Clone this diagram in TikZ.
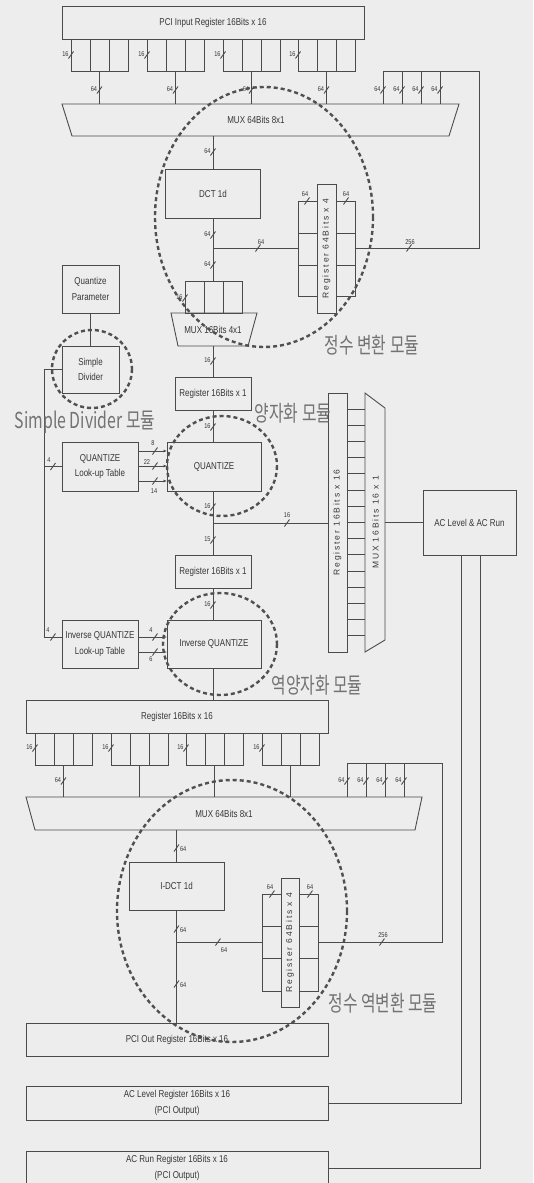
\documentclass[tikz,border=0pt]{standalone}
\usepackage{fontspec}
\setmainfont[FakeStretch=0.8]{Liberation Sans}
\newfontfamily\vertf[LetterSpace=22]{Liberation Sans}
\newfontfamily\korf[FakeStretch=0.72]{Noto Sans CJK KR}
\usetikzlibrary{arrows.meta}
\definecolor{bgc}{RGB}{237,237,237}
\definecolor{lc}{RGB}{75,75,75}
\definecolor{tc}{RGB}{55,55,55}
\definecolor{cc}{RGB}{80,80,80}
\definecolor{kc}{RGB}{115,115,115}
\newcommand\msz{\fontsize{10}{15.5}\selectfont}
\newcommand\ssz{\fontsize{7}{8}\selectfont}
\newcommand\vsz{\vertf\fontsize{8.5}{10}\selectfont}
\newcommand\ksz{\korf\fontsize{22}{24}\selectfont}
\newcommand\bmL[3]{\draw[ln] (#1,#2) ++(-2.5,3.5) -- ++(5,-7); \node[lab,anchor=east] at (#1-2,#2-1) {#3};}
\newcommand\bmR[3]{\draw[ln] (#1,#2) ++(-2.5,3.5) -- ++(5,-7); \node[lab,anchor=west] at (#1+3,#2+1.5) {#3};}
\newcommand\bmX[1]{\draw[ln] (#1) ++(-2.5,3.5) -- ++(5,-7);}
\begin{document}
\begin{tikzpicture}[x=1pt,y=-1pt,
 ln/.style={draw=lc,line width=0.9pt},
 box/.style={draw=lc,line width=0.9pt,inner sep=1pt,outer sep=0pt,text=tc,font=\msz,align=center},
 cellbox/.style={draw=lc,line width=0.9pt,inner sep=0pt,outer sep=0pt},
 vbox/.style={box,rotate=90,font=\vsz},
 vtext/.style={text=tc,font=\vsz,rotate=90,inner sep=0pt},
 mtext/.style={text=tc,font=\msz,inner sep=0pt},
 lab/.style={text=tc,font=\ssz,inner sep=0.3pt},
 circ/.style={draw=cc,line width=2.4pt,dash pattern=on 4pt off 3pt},
 kor/.style={text=kc,font=\ksz,inner sep=0pt},
 arr/.style={ln,-{Latex[length=3.5pt,width=3pt]}}
]
\useasboundingbox (0,0) rectangle (533,1183);
\fill[bgc] (0,0) rectangle (533,1183);

%% ---------------- upper part ----------------
\node[box,minimum width=302pt,minimum height=33pt] (pciin) at (213,22.5) {PCI Input Register 16Bits x 16};
\coordinate (mux1top) at (0,104);
\coordinate (mux1bot) at (0,136);
\foreach \n/\x in {1/71,2/147,3/223,4/298}{
  \node[cellbox,minimum width=57pt,minimum height=32pt,anchor=north west] (ga\n) at (\x,39) {};
  \draw[ln] (\x+19,39) -- (\x+19,71) (\x+38,39) -- (\x+38,71);
  \bmL{\x}{55}{16}
  \draw[ln] (ga\n.south) -- (ga\n.south |- mux1top);
  \pgfmathsetmacro\cx{\x+28.5}
  \bmL{\cx}{90}{64}
}
\draw[ln] (62,104) -- (459,104) -- (449,136) -- (72,136) -- cycle;
\node[mtext] (mux1) at (256,120) {MUX 64Bits 8x1};

\node[box,minimum width=95pt,minimum height=49pt] (dct) at (213,193.5) {DCT 1d};
\draw[ln] (dct.north |- mux1bot) -- (dct.north);
\bmL{213}{152}{64}

% register 64 x 4
\node[vbox,minimum width=129pt,minimum height=19pt] (r64a) at (326.5,248.5) {Register 64Bits x 4};
\node[cellbox,minimum width=19pt,minimum height=95pt] (r64aL) at (307.5,248.5) {};
\node[cellbox,minimum width=19pt,minimum height=95pt] (r64aR) at (345.5,248.5) {};
\draw[ln] (298,233) -- (317,233) (298,265) -- (317,265) (336,233) -- (355,233) (336,265) -- (355,265);
\bmX{307,201} \node[lab,anchor=south] at (305,197.5) {64};
\bmX{346,201} \node[lab,anchor=south] at (346,197.5) {64};

% mux 16 4x1 cells
\node[cellbox,minimum width=57pt,minimum height=32pt] (m16c) at (213.5,297) {};
\draw[ln] (204,281) -- (204,313) (223,281) -- (223,313);
\bmL{185}{298}{16}
\draw[ln] (dct.south) -- (dct.south |- m16c.north);
\bmL{213}{235}{64}
\bmL{213}{265}{64}
\coordinate (j64a) at (213,248);
\draw[ln] (j64a) -- (j64a -| r64aL.west);
\bmX{258,248} \node[lab,anchor=south] at (261,245) {64};

% feedback 256
\draw[ln] (r64aR.east |- j64a) -- (479,248) |- (383,71) -- (383,104);
\draw[ln] (402,71) -- (402,104) (421,71) -- (421,104) (440,71) -- (440,104);
\bmL{383}{90}{64} \bmL{402}{90}{64} \bmL{421}{90}{64} \bmL{440}{90}{64}
\bmX{409,248} \node[lab,anchor=south] at (410,245) {256};

\draw[ln] (171,313) -- (257,313) -- (248,346) -- (178,346) -- cycle;
\node[mtext] (m16) at (213,330) {MUX 16Bits 4x1};

\node[box,minimum width=76pt,minimum height=33pt] (r16a) at (213,393.5) {Register 16Bits x 1};
\draw[ln] (213,346) -- (r16a.north);
\bmL{213}{361}{16}

% quantize parameter / simple divider
\node[box,minimum width=57pt,minimum height=48pt] (qpar) at (90.5,289) {Quantize\\Parameter};
\node[box,minimum width=57pt,minimum height=47pt] (sdiv) at (90.5,369.5) {Simple\\Divider};
\draw[ln] (qpar.south) -- (sdiv.north);

% quantize
\node[box,minimum width=76pt,minimum height=49pt] (qlut) at (100,466.5) {QUANTIZE\\Look-up Table};
\node[box,minimum width=94pt,minimum height=49pt] (quant) at (214,466.5) {QUANTIZE};
\draw[ln] (r16a.south) -- (r16a.south |- quant.north);
\bmL{213}{427}{16}
\draw[arr] ([yshift=15.5pt]qlut.east) -- ([yshift=15.5pt]quant.west);
\draw[arr] ([yshift=0.5pt]qlut.east) -- ([yshift=0.5pt]quant.west);
\draw[arr] ([yshift=-14.5pt]qlut.east) -- ([yshift=-14.5pt]quant.west);
\bmX{155,451} \node[lab,anchor=south] at (153,446.5) {8};
\bmX{155,466} \node[lab,anchor=east] at (150.5,462) {22};
\bmX{155,481} \node[lab,anchor=north] at (154,488) {14};

% register 16 x 16 (vertical) and mux 16x1
\node[vbox,minimum width=259pt,minimum height=19pt] (r1616v) at (337.5,522.5) {Register 16Bits x 16};
\foreach \k in {1,...,15}{\draw[ln] (347,393+16.1875*\k) -- (365,393+16.1875*\k);}
\draw[ln] (365,393) -- (385,408) -- (385,640) -- (365,652) -- cycle;
\node[vtext] (m16x1) at (375.5,522.5) {MUX 16Bits 16 x 1};
\node[box,minimum width=93pt,minimum height=65pt] (acbox) at (469.5,522.5) {AC Level \& AC Run};
\draw[ln] (385,522.5) -- (acbox.west);

\node[box,minimum width=76pt,minimum height=33pt] (r16b) at (213,571.5) {Register 16Bits x 1};
\coordinate (j16) at (213,523);
\draw[ln] (r16a.south |- quant.south) -- (r16b.north);
\draw[ln] (j16) -- (j16 -| r1616v.north);
\bmL{213}{507}{16}
\bmL{213}{540}{15}
\bmX{287,523} \node[lab,anchor=south] at (287,518.5) {16};

% inverse quantize
\node[box,minimum width=76pt,minimum height=48pt] (iqlut) at (100,644) {Inverse QUANTIZE\\Look-up Table};
\node[box,minimum width=94pt,minimum height=48pt] (iquant) at (214,644) {Inverse QUANTIZE};
\draw[ln] (r16b.south) -- (r16b.south |- iquant.north);
\bmL{213}{605}{16}
\draw[arr] ([yshift=7pt]iqlut.east) -- ([yshift=7pt]iquant.west);
\draw[arr] ([yshift=-8pt]iqlut.east) -- ([yshift=-8pt]iquant.west);
\bmX{155,637} \node[lab,anchor=south] at (151,633) {4};
\bmX{155,652} \node[lab,anchor=north] at (151,656.5) {6};

% left bus from simple divider
\coordinate (lb) at (44,637);
\draw[ln] (sdiv.west) -| (lb) -- ([yshift=7pt]iqlut.west);
\draw[ln] (qlut.west) -- (qlut.west -| lb);
\bmX{53,466.5} \node[lab,anchor=south] at (49,462.5) {4};
\bmX{53,637} \node[lab,anchor=south] at (48,633) {4};

%% ---------------- lower part ----------------
\node[box,minimum width=302pt,minimum height=33pt] (r1616) at (177,716.5) {Register 16Bits x 16};
\draw[ln] (r16b.south |- iquant.south) -- (r16b.south |- r1616.north);
\coordinate (mux2top) at (0,797);
\coordinate (mux2bot) at (0,830);
\foreach \n/\x in {1/35,2/111,3/186,4/262}{
  \node[cellbox,minimum width=57pt,minimum height=32pt,anchor=north west] (gb\n) at (\x,733) {};
  \draw[ln] (\x+19,733) -- (\x+19,765) (\x+38,733) -- (\x+38,765);
  \bmL{\x}{748}{16}
  \draw[ln] (gb\n.south) -- (gb\n.south |- mux2top);
}
\bmL{63.5}{781}{64}
\draw[ln] (26,797) -- (422,797) -- (415,830) -- (35,830) -- cycle;
\node[mtext] (mux2) at (224,814) {MUX 64Bits 8x1};

\node[box,minimum width=95pt,minimum height=48pt] (idct) at (176.5,886) {I-DCT 1d};
\draw[ln] (idct.north |- mux2bot) -- (idct.north);
\bmR{176.5}{848}{64}

\node[vbox,minimum width=129pt,minimum height=18pt] (r64b) at (290,942.5) {Register 64Bits x 4};
\node[cellbox,minimum width=19pt,minimum height=97pt] (r64bL) at (271.5,942.5) {};
\node[cellbox,minimum width=19pt,minimum height=97pt] (r64bR) at (308.5,942.5) {};
\draw[ln] (262,926) -- (281,926) (262,958) -- (281,958) (299,926) -- (318,926) (299,958) -- (318,958);
\bmX{272,894} \node[lab,anchor=south] at (270,890.5) {64};
\bmX{310,894} \node[lab,anchor=south] at (310,890.5) {64};

\node[box,minimum width=302pt,minimum height=33pt] (pciout) at (177,1039.5) {PCI Out Register 16Bits x 16};
\draw[ln] (idct.south) -- (idct.south |- pciout.north);
\bmR{176.5}{929}{64}
\bmR{176.5}{984}{64}
\coordinate (j64b) at (176.5,942);
\draw[ln] (j64b) -- (j64b -| r64bL.west);
\bmX{218,942} \node[lab,anchor=north] at (224,947.5) {64};

\draw[ln] (r64bR.east |- j64b) -- (442,942) |- (347,763) -- (347,797);
\draw[ln] (366,763) -- (366,797) (385,763) -- (385,797) (404,763) -- (404,797);
\bmL{347}{781}{64} \bmL{366}{781}{64} \bmL{385}{781}{64} \bmL{404}{781}{64}
\bmX{382,942} \node[lab,anchor=south] at (383,938.5) {256};

\node[box,minimum width=302pt,minimum height=34pt] (aclev) at (177,1103) {AC Level Register 16Bits x 16\\(PCI Output)};
\node[box,minimum width=302pt,minimum height=34pt] (acrun) at (177,1168) {AC Run Register 16Bits x 16\\(PCI Output)};
\draw[ln] ([xshift=-8.5pt]acbox.south) |- (aclev.east);
\draw[ln] ([xshift=10.5pt]acbox.south) |- (acrun.east);

%% ---------------- dashed module circles ----------------
\draw[circ] (264,217) ellipse [x radius=109, y radius=130];
\draw[circ] (92,369) ellipse [x radius=40, y radius=39];
\draw[circ] (222,466) ellipse [x radius=55, y radius=50];
\draw[circ] (220,644) ellipse [x radius=57, y radius=51];
\draw[circ] (232,911) ellipse [x radius=115, y radius=131];

\node[kor] (k1) at (372,345) {정수 변환 모듈};
\node[kor] (k2) at (293,413) {양자화 모듈};
\node[kor] (k3) at (317,685) {역양자화 모듈};
\node[kor] (k4) at (383,1003) {정수 역변환 모듈};
\node[kor] (k5) at (85,422) {Simple Divider 모듈};
\end{tikzpicture}
\end{document}
